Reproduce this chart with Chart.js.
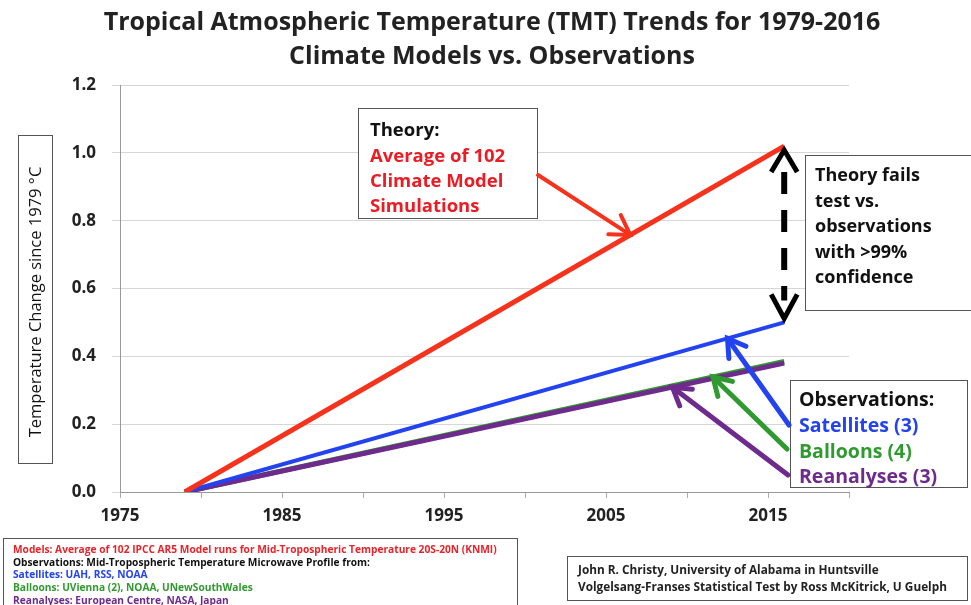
<!DOCTYPE html>
<html>
<head>
<meta charset="utf-8">
<script src="https://cdn.jsdelivr.net/npm/chart.js@4"></script>
<style>
  html, body { margin: 0; padding: 0; background: #fff; }
  #wrap { width: 971px; height: 605px; }
</style>
</head>
<body>
<div id="wrap"><canvas id="graph" width="971" height="605"></canvas></div>
<script>
// data
const years = [1979, 2016];
const models = [0, 1.02];
const satellites = [0, 0.50];
const balloons = [0, 0.385];
const reanalyses = [0, 0.38];
const xTicks = [1975, 1980, 1985, 1990, 1995, 2000, 2005, 2010, 2015, 2020];
const xLabels = [1975, 1985, 1995, 2005, 2015];
const yTicks = [0, 0.2, 0.4, 0.6, 0.8, 1.0, 1.2];

const FONT = "'Open Sans', Lato, sans-serif";
const RED = "#f5321c", BLUE = "#2343f0", GREEN = "#2f9a2f", PURPLE = "#6e2a8c";

function pts(vals) { return years.map((x, i) => ({ x: x, y: vals[i] })); }

function box(ctx, x, y, w, h) {
  ctx.save();
  ctx.fillStyle = "#fff";
  ctx.fillRect(x, y, w, h);
  ctx.strokeStyle = "#555";
  ctx.lineWidth = 1;
  ctx.strokeRect(x + 0.5, y + 0.5, w, h);
  ctx.restore();
}

function arrow(ctx, x1, y1, x2, y2, color, lw, head) {
  ctx.save();
  ctx.strokeStyle = color;
  ctx.lineWidth = lw;
  ctx.lineCap = "round";
  ctx.beginPath();
  ctx.moveTo(x1, y1);
  ctx.lineTo(x2, y2);
  ctx.stroke();
  const a = Math.atan2(y2 - y1, x2 - x1);
  ctx.beginPath();
  ctx.moveTo(x2 - head * Math.cos(a - 0.55), y2 - head * Math.sin(a - 0.55));
  ctx.lineTo(x2, y2);
  ctx.lineTo(x2 - head * Math.cos(a + 0.55), y2 - head * Math.sin(a + 0.55));
  ctx.stroke();
  ctx.restore();
}

// point on a trend line at a given year
function onLine(chart, vals, yr) {
  const t = (yr - years[0]) / (years[1] - years[0]);
  const v = vals[0] + t * (vals[1] - vals[0]);
  return [chart.scales.x.getPixelForValue(yr), chart.scales.y.getPixelForValue(v)];
}

const extras = {
  id: "extras",
  afterDraw(chart) {
    const ctx = chart.ctx;
    const xs = chart.scales.x, ys = chart.scales.y;
    ctx.save();
    ctx.textBaseline = "middle";

    // title
    ctx.fillStyle = "#222";
    ctx.textAlign = "center";
    ctx.font = "bold 25px " + FONT;
    ctx.fillText("Tropical Atmospheric Temperature (TMT) Trends for 1979-2016", 492, 23);
    ctx.fillText("Climate Models vs. Observations", 492, 57);

    // y axis title
    box(ctx, 18, 135, 34, 328);
    ctx.save();
    ctx.translate(36, 302);
    ctx.rotate(-Math.PI / 2);
    ctx.fillStyle = "#111";
    ctx.font = "16.5px " + FONT;
    ctx.fillText("Temperature Change since 1979 \u00B0C", 0, 0);
    ctx.restore();

    // theory box
    ctx.textAlign = "left";
    box(ctx, 358, 108, 179, 110);
    ctx.font = "bold 18.5px " + FONT;
    ctx.fillStyle = "#111";
    ctx.fillText("Theory:", 370, 131);
    ctx.fillStyle = "#ec1c24";
    ctx.fillText("Average of 102", 370, 157);
    ctx.fillText("Climate Model", 370, 182);
    ctx.fillText("Simulations", 370, 207);
    let p = onLine(chart, models, 2006.5);
    arrow(ctx, 538, 175, p[0], p[1], RED, 4, 22);

    // gap arrow between models and satellites at the end year
    const xe = xs.getPixelForValue(years[1]);
    const yTop = ys.getPixelForValue(models[1]) + 4;
    const yBot = ys.getPixelForValue(satellites[1]) - 4;
    ctx.save();
    ctx.strokeStyle = "#000";
    ctx.lineWidth = 6;
    ctx.setLineDash([22, 16]);
    ctx.beginPath();
    ctx.moveTo(xe, yTop + 22);
    ctx.lineTo(xe, yBot - 18);
    ctx.stroke();
    ctx.setLineDash([]);
    ctx.lineWidth = 5;
    ctx.beginPath();
    ctx.moveTo(xe - 13, yTop + 22); ctx.lineTo(xe, yTop); ctx.lineTo(xe + 13, yTop + 22);
    ctx.moveTo(xe - 13, yBot - 24); ctx.lineTo(xe, yBot); ctx.lineTo(xe + 13, yBot - 24);
    ctx.stroke();
    ctx.restore();

    // theory fails box
    box(ctx, 805, 155, 170, 155);
    ctx.font = "bold 18px " + FONT;
    ctx.fillStyle = "#111";
    ["Theory fails", "test vs.", "observations", "with >99%", "confidence"].forEach((s, i) => {
      ctx.fillText(s, 815, 176 + i * 25.5);
    });

    // observations box
    box(ctx, 790, 380, 177, 107);
    ctx.font = "bold 19.5px " + FONT;
    ctx.fillStyle = "#111";
    ctx.fillText("Observations:", 799, 400);
    ctx.fillStyle = BLUE;   ctx.fillText("Satellites (3)", 799, 426);
    ctx.fillStyle = GREEN;  ctx.fillText("Balloons (4)", 799, 452);
    ctx.fillStyle = PURPLE; ctx.fillText("Reanalyses (3)", 799, 477);
    p = onLine(chart, satellites, 2012.5);
    arrow(ctx, 789, 425, p[0], p[1], BLUE, 5, 20);
    p = onLine(chart, balloons, 2011.6);
    arrow(ctx, 787, 449, p[0], p[1], GREEN, 5, 20);
    p = onLine(chart, reanalyses, 2009.1);
    arrow(ctx, 788, 475, p[0], p[1], PURPLE, 5, 20);

    // sources box
    box(ctx, 3, 538, 514, 80);
    ctx.font = "bold 10.2px " + FONT;
    const src = [
      ["Models: Average of 102 IPCC AR5 Model runs for Mid-Tropospheric Temperature 20S-20N (KNMI)", "#e8232a"],
      ["Observations: Mid-Tropospheric Temperature Microwave Profile from:", "#111"],
      ["Satellites: UAH, RSS, NOAA", BLUE],
      ["Balloons: UVienna (2), NOAA, UNewSouthWales", GREEN],
      ["Reanalyses: European Centre, NASA, Japan", PURPLE]
    ];
    src.forEach((s, i) => { ctx.fillStyle = s[1]; ctx.fillText(s[0], 13, 550 + i * 12.8); });

    // credit box
    box(ctx, 567, 556, 400, 44);
    ctx.font = "bold 11.8px " + FONT;
    ctx.fillStyle = "#222";
    ctx.fillText("John R. Christy, University of Alabama in Huntsville", 578, 571);
    ctx.fillText("Volgelsang-Franses Statistical Test by Ross McKitrick, U Guelph", 578, 588);

    ctx.restore();
  }
};

new Chart(document.getElementById("graph"), {
  type: "scatter",
  data: {
    datasets: [
      { label: "Models", data: pts(models), borderColor: RED, borderWidth: 5, order: 1 },
      { label: "Satellites", data: pts(satellites), borderColor: BLUE, borderWidth: 4, order: 2 },
      { label: "Reanalyses", data: pts(reanalyses), borderColor: PURPLE, borderWidth: 5, order: 3 },
      { label: "Balloons", data: pts(balloons), borderColor: GREEN, borderWidth: 5, order: 4 }
    ].map(d => Object.assign(d, { showLine: true, pointRadius: 0, fill: false, borderCapStyle: "butt" }))
  },
  options: {
    responsive: false,
    animation: false,
    layout: { padding: { top: 85, right: 122, left: 0, bottom: 0 } },
    plugins: { legend: { display: false }, tooltip: { enabled: false } },
    scales: {
      x: {
        type: "linear", min: 1975, max: 2020,
        afterBuildTicks: s => { s.ticks = xTicks.map(v => ({ value: v })); },
        afterFit: s => { s.height = 113; },
        grid: { drawOnChartArea: false, tickLength: 6, color: "#aaa" },
        border: { color: "#999" },
        ticks: {
          autoSkip: false, maxRotation: 0, padding: 8, color: "#222",
          font: { family: FONT, size: 17, weight: "bold" },
          callback: v => xLabels.includes(v) ? String(v) : ""
        }
      },
      y: {
        min: 0, max: 1.2,
        afterBuildTicks: s => { s.ticks = yTicks.map(v => ({ value: v })); },
        afterFit: s => { s.width = 120; },
        grid: { color: "#d6d6d6", tickLength: 8 },
        border: { color: "#999" },
        ticks: {
          padding: 16, color: "#222",
          font: { family: FONT, size: 17, weight: "bold" },
          callback: v => v.toFixed(1)
        }
      }
    }
  },
  plugins: [extras]
});
</script>
</body>
</html>
